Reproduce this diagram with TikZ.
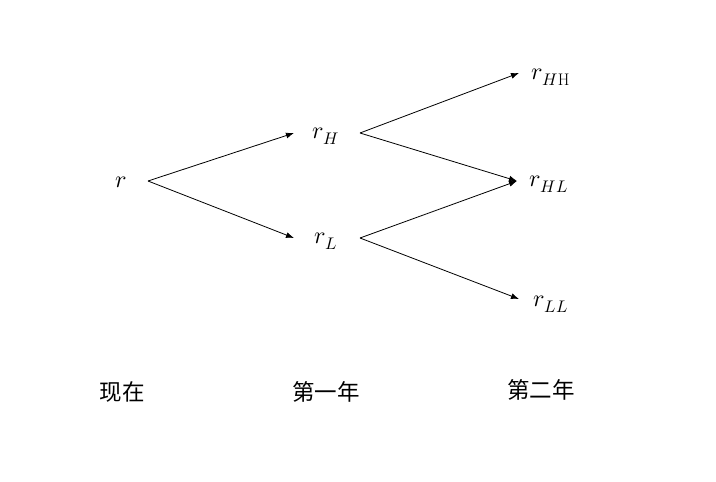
\documentclass[tikz,border=0pt]{standalone}
\usepackage{fontspec}
\usepackage{unicode-math}
\setmathfont{Latin Modern Math}
\newfontfamily\cjk{Noto Sans CJK SC}
\usetikzlibrary{arrows.meta}
\begin{document}
\begin{tikzpicture}[x=1pt,y=-1pt,
  lbl/.style={inner sep=0pt,anchor=center,font=\fontsize{24}{28}\selectfont},
  yr/.style={inner sep=0pt,anchor=center,font=\cjk\fontsize{22.5}{26}\selectfont},
  arr/.style={line width=0.8pt,-{Latex[length=8pt,width=6pt]}}]
\useasboundingbox (0,0) rectangle (716,482);
% value nodes
\node[lbl] (r) at (121,182) {$r$};
\node[lbl] (rH) at (326,136) {$r_H$};
\node[lbl] (rL) at (326,241) {$r_L$};
\node[lbl] (rHH) at (551,77) {$r_{H\mathrm{H}}$};
\node[lbl] (rHL) at (549,184) {$r_{HL}$};
\node[lbl] (rLL) at (551,304) {$r_{LL}$};
% connector end points
\coordinate (rout) at (148,181);
\coordinate (rHin) at (294,133);
\coordinate (rLin) at (294,238);
\coordinate (rHout) at (360,133);
\coordinate (rLout) at (360,238);
\coordinate (rHHin) at (519,73);
\coordinate (rHLin) at (517,181);
\coordinate (rLLin) at (519,299);
\draw[arr] (rout) -- (rHin);
\draw[arr] (rout) -- (rLin);
\draw[arr] (rHout) -- (rHHin);
\draw[arr] (rHout) -- (rHLin);
\draw[arr] (rLout) -- (rHLin);
\draw[arr] (rLout) -- (rLLin);
% period labels
\node[yr] (t0) at (122,392) {现在};
\node[yr] (t1) at (326,392) {第一年};
\node[yr] (t2) at (541,390) {第二年};
\end{tikzpicture}
\end{document}
